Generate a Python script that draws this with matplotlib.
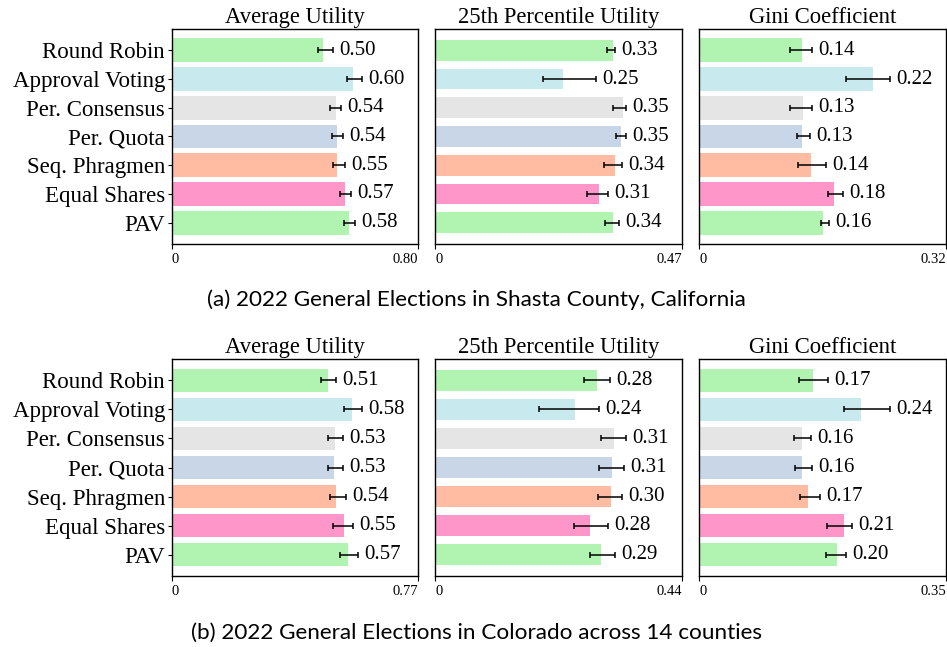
import matplotlib
matplotlib.use("Agg")
import matplotlib.pyplot as plt
import numpy as np

# methods, top to bottom
methods = ["Round Robin", "Approval Voting", "Per. Consensus", "Per. Quota",
           "Seq. Phragmen", "Equal Shares", "PAV"]
colors = ["#b1f3b1", "#c8e9ed", "#e5e5e5", "#c8d6e8", "#ffbca2", "#ff96ca", "#b1f3b1"]

metric_titles = ["Average Utility", "25th Percentile Utility", "Gini Coefficient"]

# (a) Shasta County -- bar value, error bar low / high end, printed label
sh_avg = [0.492, 0.587, 0.532, 0.535, 0.538, 0.561, 0.574]
sh_avg_lo = [0.474, 0.568, 0.514, 0.519, 0.524, 0.546, 0.559]
sh_avg_hi = [0.522, 0.618, 0.548, 0.555, 0.563, 0.583, 0.596]
sh_avg_txt = ["0.50", "0.60", "0.54", "0.54", "0.55", "0.57", "0.58"]

sh_p25 = [0.339, 0.244, 0.358, 0.354, 0.343, 0.312, 0.339]
sh_p25_lo = [0.327, 0.205, 0.338, 0.344, 0.321, 0.290, 0.323]
sh_p25_hi = [0.343, 0.307, 0.364, 0.363, 0.356, 0.330, 0.351]
sh_p25_txt = ["0.33", "0.25", "0.35", "0.35", "0.34", "0.31", "0.34"]

sh_gini = [0.134, 0.225, 0.135, 0.134, 0.145, 0.175, 0.161]
sh_gini_lo = [0.118, 0.191, 0.118, 0.127, 0.128, 0.167, 0.158]
sh_gini_hi = [0.147, 0.247, 0.146, 0.144, 0.165, 0.186, 0.168]
sh_gini_txt = ["0.14", "0.22", "0.13", "0.13", "0.14", "0.18", "0.16"]

# (b) Colorado, 14 counties
co_avg = [0.488, 0.563, 0.510, 0.507, 0.513, 0.538, 0.550]
co_avg_lo = [0.465, 0.538, 0.488, 0.489, 0.495, 0.505, 0.525]
co_avg_hi = [0.514, 0.595, 0.534, 0.536, 0.544, 0.565, 0.583]
co_avg_txt = ["0.51", "0.58", "0.53", "0.53", "0.54", "0.55", "0.57"]

co_p25 = [0.289, 0.250, 0.318, 0.316, 0.314, 0.277, 0.296]
co_p25_lo = [0.265, 0.186, 0.295, 0.292, 0.290, 0.248, 0.277]
co_p25_hi = [0.311, 0.293, 0.341, 0.336, 0.334, 0.309, 0.321]
co_p25_txt = ["0.28", "0.24", "0.31", "0.31", "0.30", "0.28", "0.29"]

co_gini = [0.161, 0.229, 0.146, 0.146, 0.154, 0.205, 0.195]
co_gini_lo = [0.142, 0.205, 0.134, 0.136, 0.143, 0.181, 0.180]
co_gini_hi = [0.183, 0.270, 0.159, 0.160, 0.171, 0.217, 0.208]
co_gini_txt = ["0.17", "0.24", "0.16", "0.16", "0.17", "0.21", "0.20"]

xmax = [[0.80, 0.47, 0.32], [0.77, 0.44, 0.35]]
xmax_txt = [["0.80", "0.47", "0.32"], ["0.77", "0.44", "0.35"]]

captions = ["(a) 2022 General Elections in Shasta County, California",
            "(b) 2022 General Elections in Colorado across 14 counties"]

panels = [
    [(sh_avg, sh_avg_lo, sh_avg_hi, sh_avg_txt),
     (sh_p25, sh_p25_lo, sh_p25_hi, sh_p25_txt),
     (sh_gini, sh_gini_lo, sh_gini_hi, sh_gini_txt)],
    [(co_avg, co_avg_lo, co_avg_hi, co_avg_txt),
     (co_p25, co_p25_lo, co_p25_hi, co_p25_txt),
     (co_gini, co_gini_lo, co_gini_hi, co_gini_txt)],
]

serif = "Liberation Serif"
plt.rcParams["font.family"] = serif

fig = plt.figure(figsize=(9.47, 6.47), dpi=100)

W, H = 947.0, 647.0
col_x = [(172, 418), (435, 682), (699, 946)]
row_y = [(29, 244), (359, 576)]
caption_y = [300, 633]
bar_h = [0.82, 0.72, 0.82]

y = np.arange(len(methods))

for r in range(2):
    for c in range(3):
        x0, x1 = col_x[c]
        y0, y1 = row_y[r]
        ax = fig.add_axes([x0 / W, 1 - y1 / H, (x1 - x0) / W, (y1 - y0) / H])
        vals, lo, hi, txt = panels[r][c]
        vals = np.array(vals)
        err = [vals - np.array(lo), np.array(hi) - vals]
        ax.barh(y, vals, height=bar_h[c], color=colors,
                xerr=err, error_kw=dict(ecolor="black", elinewidth=1.1,
                                        capsize=2.3, capthick=1.1))
        for i in range(len(methods)):
            ax.annotate(txt[i], (hi[i], y[i]), xytext=(4.5, 0),
                        textcoords="offset points", va="center", ha="left",
                        fontsize=15, fontfamily=serif)
        ax.set_ylim(6.74, -0.74)
        ax.set_xlim(0, xmax[r][c])
        ax.set_xticks([0, xmax[r][c]])
        tl = ax.set_xticklabels(["0", xmax_txt[r][c]], fontsize=10.5)
        tl[0].set_ha("left")
        tl[1].set_ha("right")
        ax.tick_params(axis="x", length=3.5, pad=3)
        if c == 0:
            ax.set_yticks(y)
            ax.set_yticklabels(methods, fontsize=16.5)
            ax.tick_params(axis="y", length=3, pad=2)
        else:
            ax.set_yticks([])
        ax.set_title(metric_titles[c], fontsize=16.3, pad=4)
        for s in ax.spines.values():
            s.set_linewidth(1.0)
    fig.text(476 / W, 1 - caption_y[r] / H, captions[r], ha="center",
             va="center", fontsize=16.2, fontfamily="Lato")

fig.savefig("out.png", dpi=100)
